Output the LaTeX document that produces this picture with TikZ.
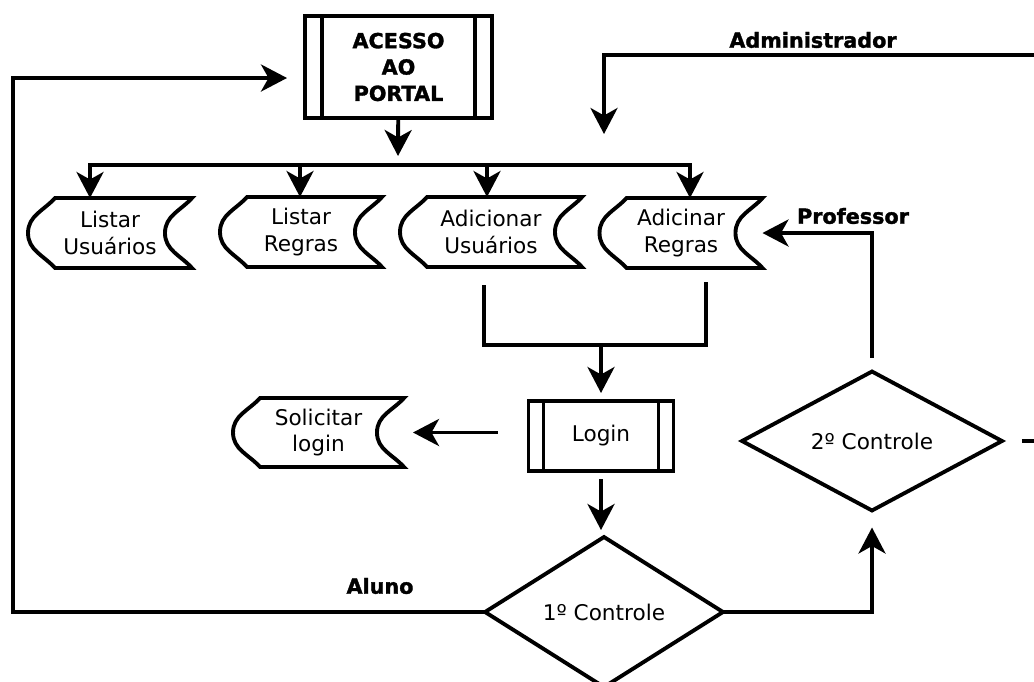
\documentclass[tikz,border=0pt]{standalone}
\usepackage{fontspec}
\setmainfont{DejaVu Sans}
\newfontfamily\pesado{DejaVu Sans Bold}[FakeBold=1.6]
\usetikzlibrary{arrows.meta,shapes.geometric}

% contorno de "dados armazenados"
\newcommand{\contornodados}[1]{%
  \draw ([xshift=0.54cm]#1.north west) -- (#1.north east)
    to[out=228,in=90] ([xshift=-0.54cm]#1.east)
    to[out=-90,in=132] (#1.south east) -- ([xshift=0.54cm]#1.south west)
    to[out=132,in=-90] (#1.west)
    to[out=90,in=228] ([xshift=0.54cm]#1.north west) -- cycle;}
% barras laterais de sub-rotina
\newcommand{\subrotina}[2]{%
  \draw ([xshift=#2]#1.north west) -- ([xshift=#2]#1.south west)
        ([xshift=-#2]#1.north east) -- ([xshift=-#2]#1.south east);}

\begin{document}
\begin{tikzpicture}[x=0.02cm,y=-0.02cm,line width=2.2pt,
    font=\fontsize{12.3}{15.2}\selectfont,
    seta/.style={-{Stealth[length=5.2mm,width=5.4mm,inset=1.5mm]}},
    caixa/.style={draw,rectangle,outer sep=0pt,inner sep=0pt,align=center},
    dados/.style={outer sep=0pt,inner sep=0pt,align=center,minimum height=1.4cm},
    decisao/.style={draw,diamond,outer sep=0pt,inner sep=0pt},
    rotulo/.style={font=\pesado\fontsize{11.8}{15}\selectfont,align=center}]
    \path[use as bounding box,clip] (0,0) rectangle (1034,681);

    \node[caixa,rotulo,minimum width=3.74cm,minimum height=2.04cm] (portal) at (398.5,67) {ACESSO\\AO\\PORTAL};
    \node[dados,minimum width=3.28cm]  (listusu) at (110,233)    {Listar\\Usuários};
    \node[dados,minimum width=3.24cm]  (listreg) at (301,232)    {Listar\\Regras};
    \node[dados,minimum width=3.64cm]  (addusu)  at (491,232)    {Adicionar\\Usuários};
    \node[dados,minimum width=3.26cm]  (addreg)  at (681,233)    {Adicinar\\Regras};
    \node[dados,minimum width=3.42cm,minimum height=1.38cm] (sollog) at (318.5,432.5) {Solicitar\\login};
    \node[caixa,minimum width=2.9cm,minimum height=1.4cm] (login) at (601,436) {Login};
    \node[decisao,minimum width=4.76cm,minimum height=3cm]  (ctrl1) at (604,612) {1º Controle};
    \node[decisao,minimum width=5.2cm,minimum height=2.78cm] (ctrl2) at (872,441) {2º Controle};

    \node[rotulo] (administrador) at (813,40)  {Administrador};
    \node[rotulo] (professor)     at (853,216) {Professor};
    \node[rotulo] (aluno)         at (380,586) {Aluno};

    \foreach \n in {listusu,listreg,addusu,addreg,sollog}
        \contornodados{\n};
    \subrotina{portal}{0.34cm}
    \subrotina{login}{0.3cm}

    \coordinate (meio)   at (398,156);
    \coordinate (b1)     at (90,165);
    \coordinate (b2)     at (300,165);
    \coordinate (b3)     at (487,165);
    \coordinate (b4)     at (690,165);
    \coordinate (ua)     at (484,285);
    \coordinate (ub)     at (706,282);
    \coordinate (uniao)  at (601,345);
    \coordinate (canto)  at (13,78);
    \coordinate (volta)  at (1070,55);
    \coordinate (adm)    at (604,134);

    \path[seta] (portal) edge (meio)
                (uniao)  edge[shorten >=0.16cm] (login);
    \draw[line cap=rect] (b1) -- (b4);
    \foreach \b/\n in {b1/listusu,b2/listreg,b3/addusu,b4/addreg}
        \draw[seta] (\b) -- (\b |- \n.north);
    \draw (ua) |- (uniao) -| (ub);
    \draw[seta,shorten <=0.62cm,shorten >=0.18cm] (login.west |- sollog.east) -- (sollog.east);
    \draw[seta,shorten <=0.16cm,shorten >=0.14cm] (login.south) -- (login.south |- ctrl1.north);
    \draw[seta,shorten >=0.36cm] (ctrl1.west) -| (canto) -- (portal.west |- canto);
    \draw[seta,shorten >=0.34cm] (ctrl1.east) -| (ctrl2.south);
    \draw[seta,shorten <=0.28cm] (ctrl2.north) |- (addreg.east);
    \draw[seta,shorten <=0.4cm]  (ctrl2.east) -| (volta) -| (adm);
\end{tikzpicture}
\end{document}
